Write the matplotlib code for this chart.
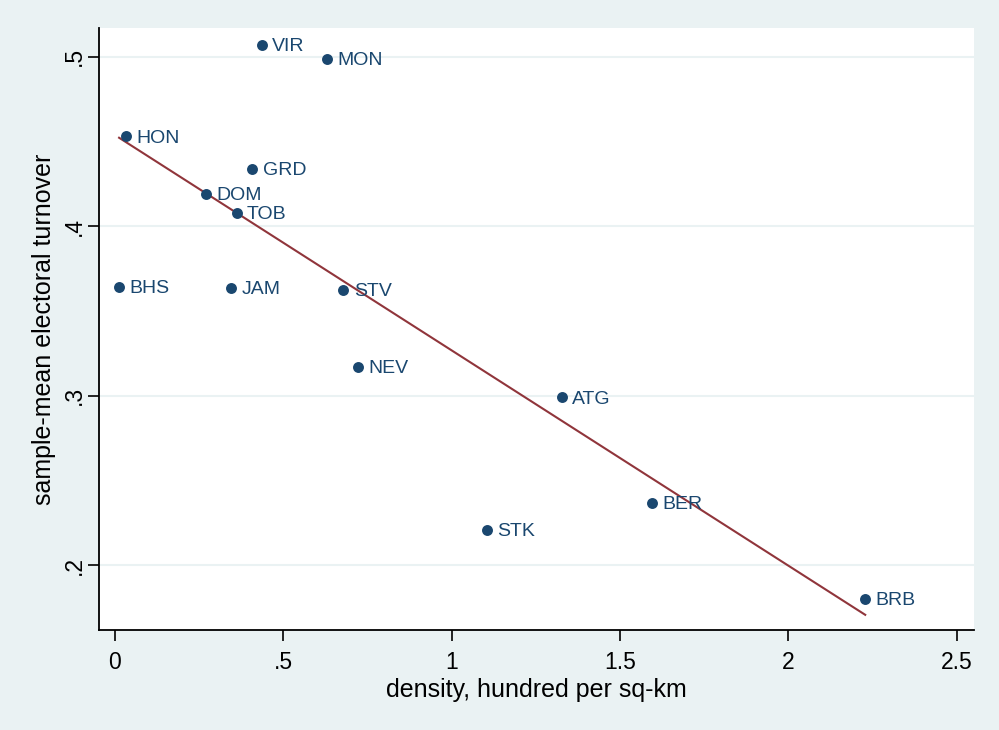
import numpy as np
import matplotlib
matplotlib.use("Agg")
import matplotlib.pyplot as plt

plt.rcParams["font.family"] = ["Liberation Sans", "DejaVu Sans"]

labels = ["VIR", "MON", "HON", "GRD", "DOM", "TOB", "BHS", "JAM", "STV",
          "NEV", "ATG", "BER", "STK", "BRB"]
density = [0.437, 0.630, 0.034, 0.408, 0.272, 0.362, 0.013, 0.346, 0.679,
           0.721, 1.327, 1.595, 1.105, 2.228]
turnover = [0.507, 0.499, 0.453, 0.434, 0.419, 0.408, 0.364, 0.3635, 0.3625,
            0.317, 0.299, 0.237, 0.221, 0.180]
xticks = [0, 0.5, 1, 1.5, 2, 2.5]
xticklabels = ["0", ".5", "1", "1.5", "2", "2.5"]
yticks = [0.2, 0.3, 0.4, 0.5]
yticklabels = [".2", ".3", ".4", ".5"]

BG = "#EAF2F3"
NAVY = "#1A476F"
MAROON = "#90353B"

x = np.array(density)
y = np.array(turnover)
slope, intercept = np.polyfit(x, y, 1)
xf = np.array([x.min(), x.max()])
yf = intercept + slope * xf

fig = plt.figure(figsize=(9.99, 7.30), dpi=100, facecolor=BG)
ax = fig.add_axes([0.0991, 0.137, 0.8759, 0.8246])
ax.set_facecolor("white")

ax.set_yticks(yticks)
ax.set_yticklabels(yticklabels, rotation=90, va="center")
ax.set_xticks(xticks)
ax.set_xticklabels(xticklabels)
ax.grid(axis="y", color=BG, linewidth=1.5)
ax.set_axisbelow(True)

ax.scatter(x, y, s=62, color=NAVY, zorder=3, linewidths=0)
for lx, ly, lab in zip(x, y, labels):
    ax.annotate(lab, (lx, ly), xytext=(7.5, -1.2), textcoords="offset points",
                va="center", ha="left", color=NAVY, fontsize=14, zorder=4)
ax.plot(xf, yf, color=MAROON, linewidth=1.5, zorder=2)

ax.set_xlim(-0.0466, 2.551)
ax.set_ylim(0.1618, 0.517)

for s in ["top", "right"]:
    ax.spines[s].set_visible(False)
for s in ["left", "bottom"]:
    ax.spines[s].set_linewidth(1.3)
    ax.spines[s].set_color("black")
ax.tick_params(axis="both", direction="out", length=8, width=1.2,
               labelsize=16.5, colors="black")
ax.tick_params(axis="x", pad=7)
ax.tick_params(axis="y", pad=1.5)

ax.set_xlabel("density, hundred per sq-km", fontsize=18, labelpad=3)
ax.set_ylabel("sample-mean electoral turnover", fontsize=18, labelpad=5)

fig.savefig("out.png", dpi=100, facecolor=BG)
